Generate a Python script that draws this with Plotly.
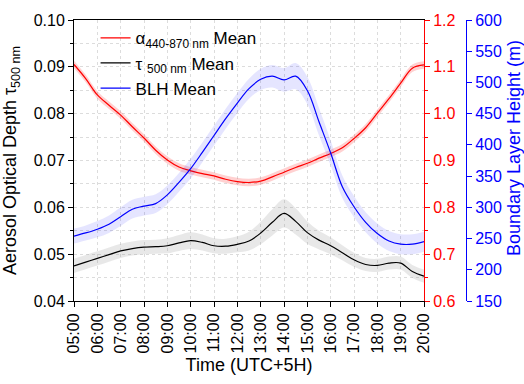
import plotly.graph_objects as go

# ---- data ----
hours = [5.0, 5.5, 6.0, 6.5, 7.0, 7.5, 8.0, 8.5, 9.0, 9.5, 10.0, 10.5, 11.0, 11.5, 12.0, 12.5,
         13.0, 13.5, 14.0, 14.5, 15.0, 15.5, 16.0, 16.5, 17.0, 17.5, 18.0, 18.5, 19.0, 19.5, 20.0]

tick_hours = [5, 6, 7, 8, 9, 10, 11, 12, 13, 14, 15, 16, 17, 18, 19, 20]
tick_labels = ["05:00", "06:00", "07:00", "08:00", "09:00", "10:00", "11:00", "12:00",
               "13:00", "14:00", "15:00", "16:00", "17:00", "18:00", "19:00", "20:00"]

aod_mean = [0.0475, 0.0483, 0.0491, 0.0499, 0.0507, 0.0512, 0.0515, 0.0516, 0.0518, 0.0524,
            0.0529, 0.0525, 0.0518, 0.0517, 0.0521, 0.0528, 0.0545, 0.0568, 0.0587, 0.0570,
            0.0546, 0.0530, 0.0518, 0.0503, 0.0488, 0.0478, 0.0476, 0.0481, 0.0481, 0.0463,
            0.0453]
aod_err = [0.0015, 0.0015, 0.0015, 0.0015, 0.0015, 0.0015, 0.0015, 0.0015, 0.0016, 0.0017,
           0.0018, 0.0017, 0.0016, 0.0016, 0.0017, 0.0020, 0.0024, 0.0028, 0.0030, 0.0028,
           0.0024, 0.0020, 0.0018, 0.0016, 0.0015, 0.0014, 0.0014, 0.0014, 0.0014, 0.0014,
           0.0014]

alpha_mean = [1.105, 1.075, 1.040, 1.018, 0.997, 0.972, 0.948, 0.922, 0.901, 0.886, 0.878,
              0.872, 0.867, 0.860, 0.855, 0.853, 0.856, 0.865, 0.875, 0.885, 0.894, 0.905,
              0.915, 0.927, 0.947, 0.970, 1.001, 1.032, 1.065, 1.097, 1.104]
alpha_err = [0.008] * len(hours)

blh_mean = [254, 259, 265, 273, 285, 297, 302, 306, 320, 340, 362, 388, 415, 442, 467, 490,
            505, 510, 504, 510, 487, 437, 387, 333, 301, 276, 258, 246, 241, 241, 245]
blh_err = [12, 12, 13, 14, 15, 15, 15, 15, 15, 15, 16, 16, 16, 16, 16, 16,
           17, 18, 19, 21, 22, 22, 20, 18, 17, 16, 16, 16, 16, 16, 16]

FONT = "Arial, Liberation Sans, sans-serif"

fig = go.Figure()


def add_band(mean, err, color, yaxis):
    upper = [m + e for m, e in zip(mean, err)]
    lower = [m - e for m, e in zip(mean, err)]
    fig.add_trace(go.Scatter(x=hours, y=upper, mode="lines", line=dict(width=0, shape="spline"),
                             showlegend=False, hoverinfo="skip", yaxis=yaxis))
    fig.add_trace(go.Scatter(x=hours, y=lower, mode="lines", line=dict(width=0, shape="spline"),
                             fill="tonexty", fillcolor=color, showlegend=False,
                             hoverinfo="skip", yaxis=yaxis))


add_band(aod_mean, aod_err, "rgba(150,150,150,0.22)", "y")
fig.add_trace(go.Scatter(x=hours, y=aod_mean, mode="lines", name="τ <sub>500 nm</sub> Mean",
                         line=dict(color="black", width=1.2, shape="spline"), yaxis="y",
                         legendrank=2, legendgroup="b"))

add_band(alpha_mean, alpha_err, "rgba(255,0,0,0.18)", "y2")
fig.add_trace(go.Scatter(x=hours, y=alpha_mean, mode="lines",
                         name="α<sub>440-870 nm</sub> Mean",
                         line=dict(color="#ff0000", width=1.2, shape="spline"), yaxis="y2",
                         legendrank=1, legendgroup="a"))

add_band(blh_mean, blh_err, "rgba(0,0,255,0.10)", "y3")
fig.add_trace(go.Scatter(x=hours, y=blh_mean, mode="lines", name="BLH Mean",
                         line=dict(color="#0000ff", width=1.2, shape="spline"), yaxis="y3",
                         legendrank=3, legendgroup="c"))

grid = "#dcdcdc"

fig.update_layout(
    width=524, height=384,
    margin=dict(l=74, r=58, t=20, b=83),
    paper_bgcolor="white", plot_bgcolor="white",
    font=dict(family=FONT, size=16, color="black"),
    showlegend=True,
    legend=dict(x=0.055, y=0.999, xanchor="left", yanchor="top", bgcolor="rgba(0,0,0,0)",
                font=dict(size=17), traceorder="normal", tracegroupgap=5, itemwidth=30),
    xaxis=dict(domain=[0, 350 / 392], range=[5, 20], tickmode="array",
               tickvals=tick_hours, ticktext=tick_labels, tickangle=-90,
               ticks="outside", ticklen=5, tickcolor="black", showline=True,
               linecolor="black", linewidth=1, mirror=True, showgrid=True,
               gridcolor=grid, griddash="dot", zeroline=False, automargin=False,
               title=dict(text="Time (UTC+5H)", font=dict(size=18), standoff=5),
               tickfont=dict(size=16)),
    yaxis=dict(range=[0.04, 0.10], dtick=0.01, tickformat=".2f", ticks="outside",
               ticklen=5, tickcolor="black", showline=True, linecolor="black",
               linewidth=1, showgrid=True, gridcolor=grid, griddash="dot",
               zeroline=False, automargin=False,
               minor=dict(dtick=0.005, ticks="outside", ticklen=3, tickcolor="black",
                          showgrid=True, gridcolor=grid, griddash="dot"),
               title=dict(text="Aerosol Optical Depth τ<sub>500 nm</sub>",
                          font=dict(size=18)),
               tickfont=dict(size=16)),
    yaxis2=dict(range=[0.6, 1.2], dtick=0.1, tickformat=".1f", overlaying="y",
                side="right", anchor="x", ticks="outside", ticklen=5, tickcolor="#ff0000",
                showline=True, linecolor="#ff0000", linewidth=1, showgrid=False,
                zeroline=False, automargin=False,
                minor=dict(dtick=0.05, ticks="outside", ticklen=3, tickcolor="#ff0000"),
                tickfont=dict(size=16, color="#ff0000")),
    yaxis3=dict(range=[150, 600], dtick=50, overlaying="y", side="right", anchor="free",
                position=1.0, ticks="outside", ticklen=5, tickcolor="#0000ff",
                showline=True, linecolor="#0000ff", linewidth=1, showgrid=False,
                zeroline=False, automargin=False,
                tickfont=dict(size=16, color="#0000ff")),
    annotations=[dict(text="Boundary Layer Height (m)", textangle=-90, xref="paper",
                      yref="paper", x=(514 - 74) / 392, y=(301 - 148) / 281,
                      xanchor="center", yanchor="middle", showarrow=False,
                      font=dict(size=18, color="#0000ff"))],
)

fig.write_html("out.html", config={"displayModeBar": False},
               post_script="document.body.style.margin='0';document.body.style.overflow='hidden';")
